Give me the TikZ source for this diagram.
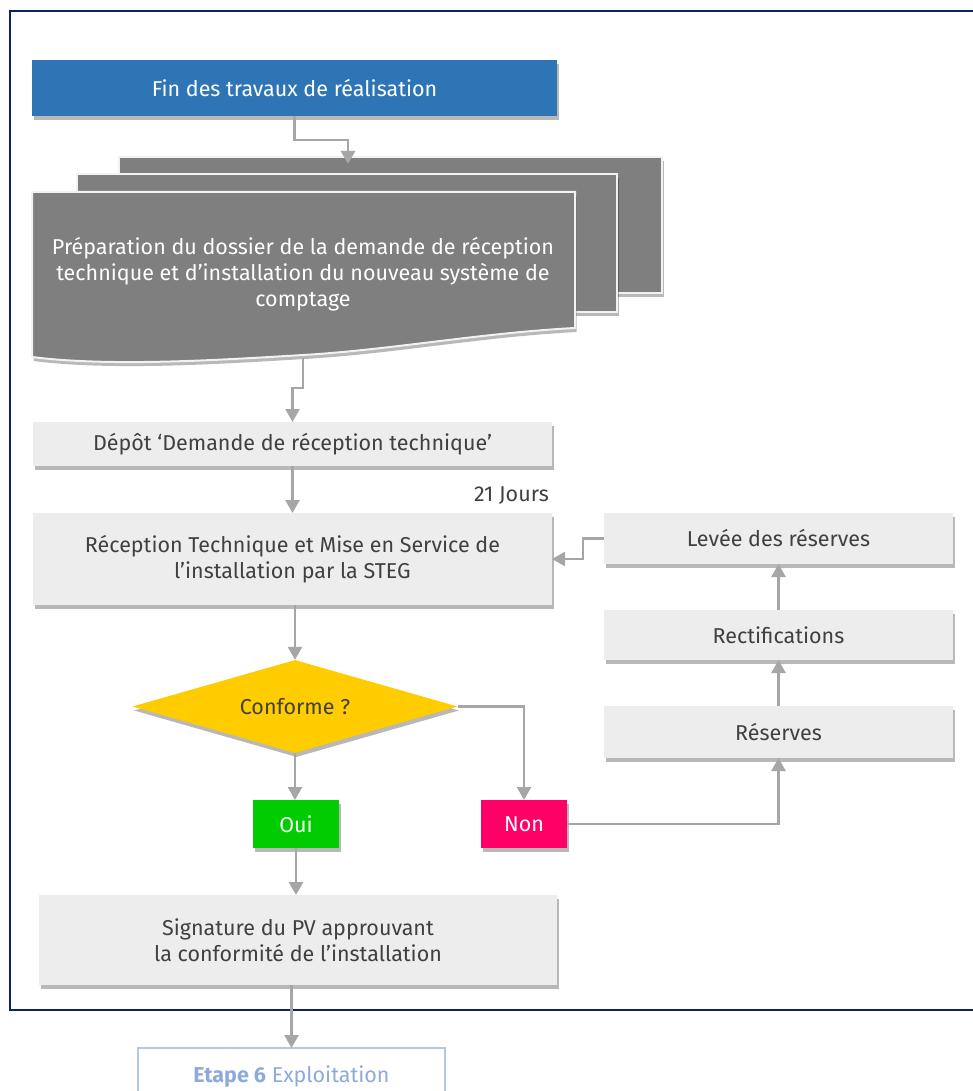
\documentclass[tikz,border=0pt]{standalone}
\usepackage{fontspec}
\setmainfont{Fira Sans}
\usetikzlibrary{arrows.meta,shapes.geometric,shadows}
\definecolor{bluebox}{HTML}{2E75B6}
\definecolor{docgray}{HTML}{7F7F7F}
\definecolor{docborder}{HTML}{F2F2F2}
\definecolor{boxgray}{HTML}{EDEDED}
\definecolor{txtdark}{HTML}{404040}
\definecolor{arrgray}{HTML}{A6A6A6}
\definecolor{gold}{HTML}{FFCC00}
\definecolor{okgreen}{HTML}{00CC00}
\definecolor{nopink}{HTML}{FF0066}
\definecolor{navy}{HTML}{0B2265}
\definecolor{etapeborder}{HTML}{B4C7E7}
\definecolor{etapetxt}{HTML}{8EA9DB}
\newcommand{\boxfont}{\fontsize{21.5}{26}\selectfont}
\tikzset{
  myshadow/.style={drop shadow={shadow xshift=1.5pt, shadow yshift=-4pt, fill=black, opacity=0.28}},
  basebox/.style={rectangle, inner sep=0pt, outer sep=0pt, align=center, font=\boxfont},
  lightbox/.style={basebox, fill=boxgray, text=txtdark, myshadow},
  bluestep/.style={basebox, fill=bluebox, text=white, myshadow},
  docpage/.style={fill=docgray, draw=docborder, line width=2pt, myshadow},
  doctext/.style={basebox, text=white},
  answer/.style={basebox, text=white, minimum width=86pt, minimum height=48pt, myshadow},
  conn/.style={draw=arrgray, line width=2.5pt, -{Triangle[width=14pt,length=13pt]}},
  plaintext/.style={inner sep=0pt, text=txtdark, font=\boxfont},
}
\begin{document}
\begin{tikzpicture}[x=1pt,y=-1pt]
\clip (0,0) rectangle (973,1091);
\fill[white] (0,0) rectangle (973,1091);
% frame
\draw[navy, line width=2.2pt] (10,11) rectangle (995,1010);

% top step
\node[bluestep, minimum width=525pt, minimum height=56pt] (fin) at (294.5,88) {Fin des travaux de réalisation};

% multi-document
\path[docpage] (119,157) rectangle (662,293);
\path[docpage] (77,174) rectangle (617,312);
\path[docpage] (32,192) -- (575,192) -- (575,328)
   .. controls (480,333) and (390,350) .. (303,355)
   .. controls (220,360) and (110,367) .. (32,357) -- cycle;
\node[doctext] (prep) at (303,274) {Préparation du dossier de la demande de réception\\technique et d’installation du nouveau système de\\comptage};
\coordinate (backtop) at (348,164);
\coordinate (prepbot) at (303,358);

% boxes
\node[lightbox, minimum width=519pt, minimum height=44pt] (depot) at (292.5,444) {Dépôt ‘Demande de réception technique’};
\node[plaintext, anchor=east] (jours) at (549,496) {21 Jours};
\node[lightbox, minimum width=519pt, minimum height=92pt] (recep) at (292.5,559) {Réception Technique et Mise en Service de\\l’installation par la STEG};
\node[diamond, fill=gold, inner sep=0pt, aspect=3.5, minimum width=325pt, minimum height=93pt, text=txtdark, font=\boxfont, myshadow] (dia) at (295,706.5) {Conforme ?};
\node[answer, fill=okgreen] (oui) at (296,824) {Oui};
\node[answer, fill=nopink] (non) at (524,824) {Non};
\node[lightbox, minimum width=349pt, minimum height=51pt] (levee) at (778.5,538.5) {Levée des réserves};
\node[lightbox, minimum width=349pt, minimum height=50pt] (rect) at (778.5,635) {Rectifications};
\node[lightbox, minimum width=349pt, minimum height=52pt] (reserves) at (778.5,732) {Réserves};
\node[lightbox, minimum width=518pt, minimum height=90pt] (sig) at (298,940) {Signature du PV approuvant\\la conformité de l’installation};
\node[basebox, draw=etapeborder, line width=2pt, fill=white, minimum width=307pt, minimum height=56pt, text=etapetxt] (etape) at (291.5,1076) {\textbf{Etape 6} Exploitation};

% connectors
\draw[conn] (fin.south) -- ++(0,24) -| (backtop);
\draw[conn] (prepbot) -- ++(0,30) -| (depot.north);
\draw[conn] (depot.south) -- (recep.north);
\draw[conn] (recep.south -| dia.north) -- (dia.north);
\draw[conn] (dia.south) -- (dia.south |- oui.north);
\draw[conn] (dia.east) -| (non.north);
\draw[conn] (non.east) -| (reserves.south);
\draw[conn] (reserves.north) -- (rect.south);
\draw[conn] (rect.north) -- (levee.south);
\draw[conn] (levee.west) -- ++(-21,0) |- (recep.east);
\draw[conn] (oui.south) -- (oui.south |- sig.north);
\draw[conn] (sig.south -| etape.north) -- (etape.north);
\end{tikzpicture}
\end{document}
